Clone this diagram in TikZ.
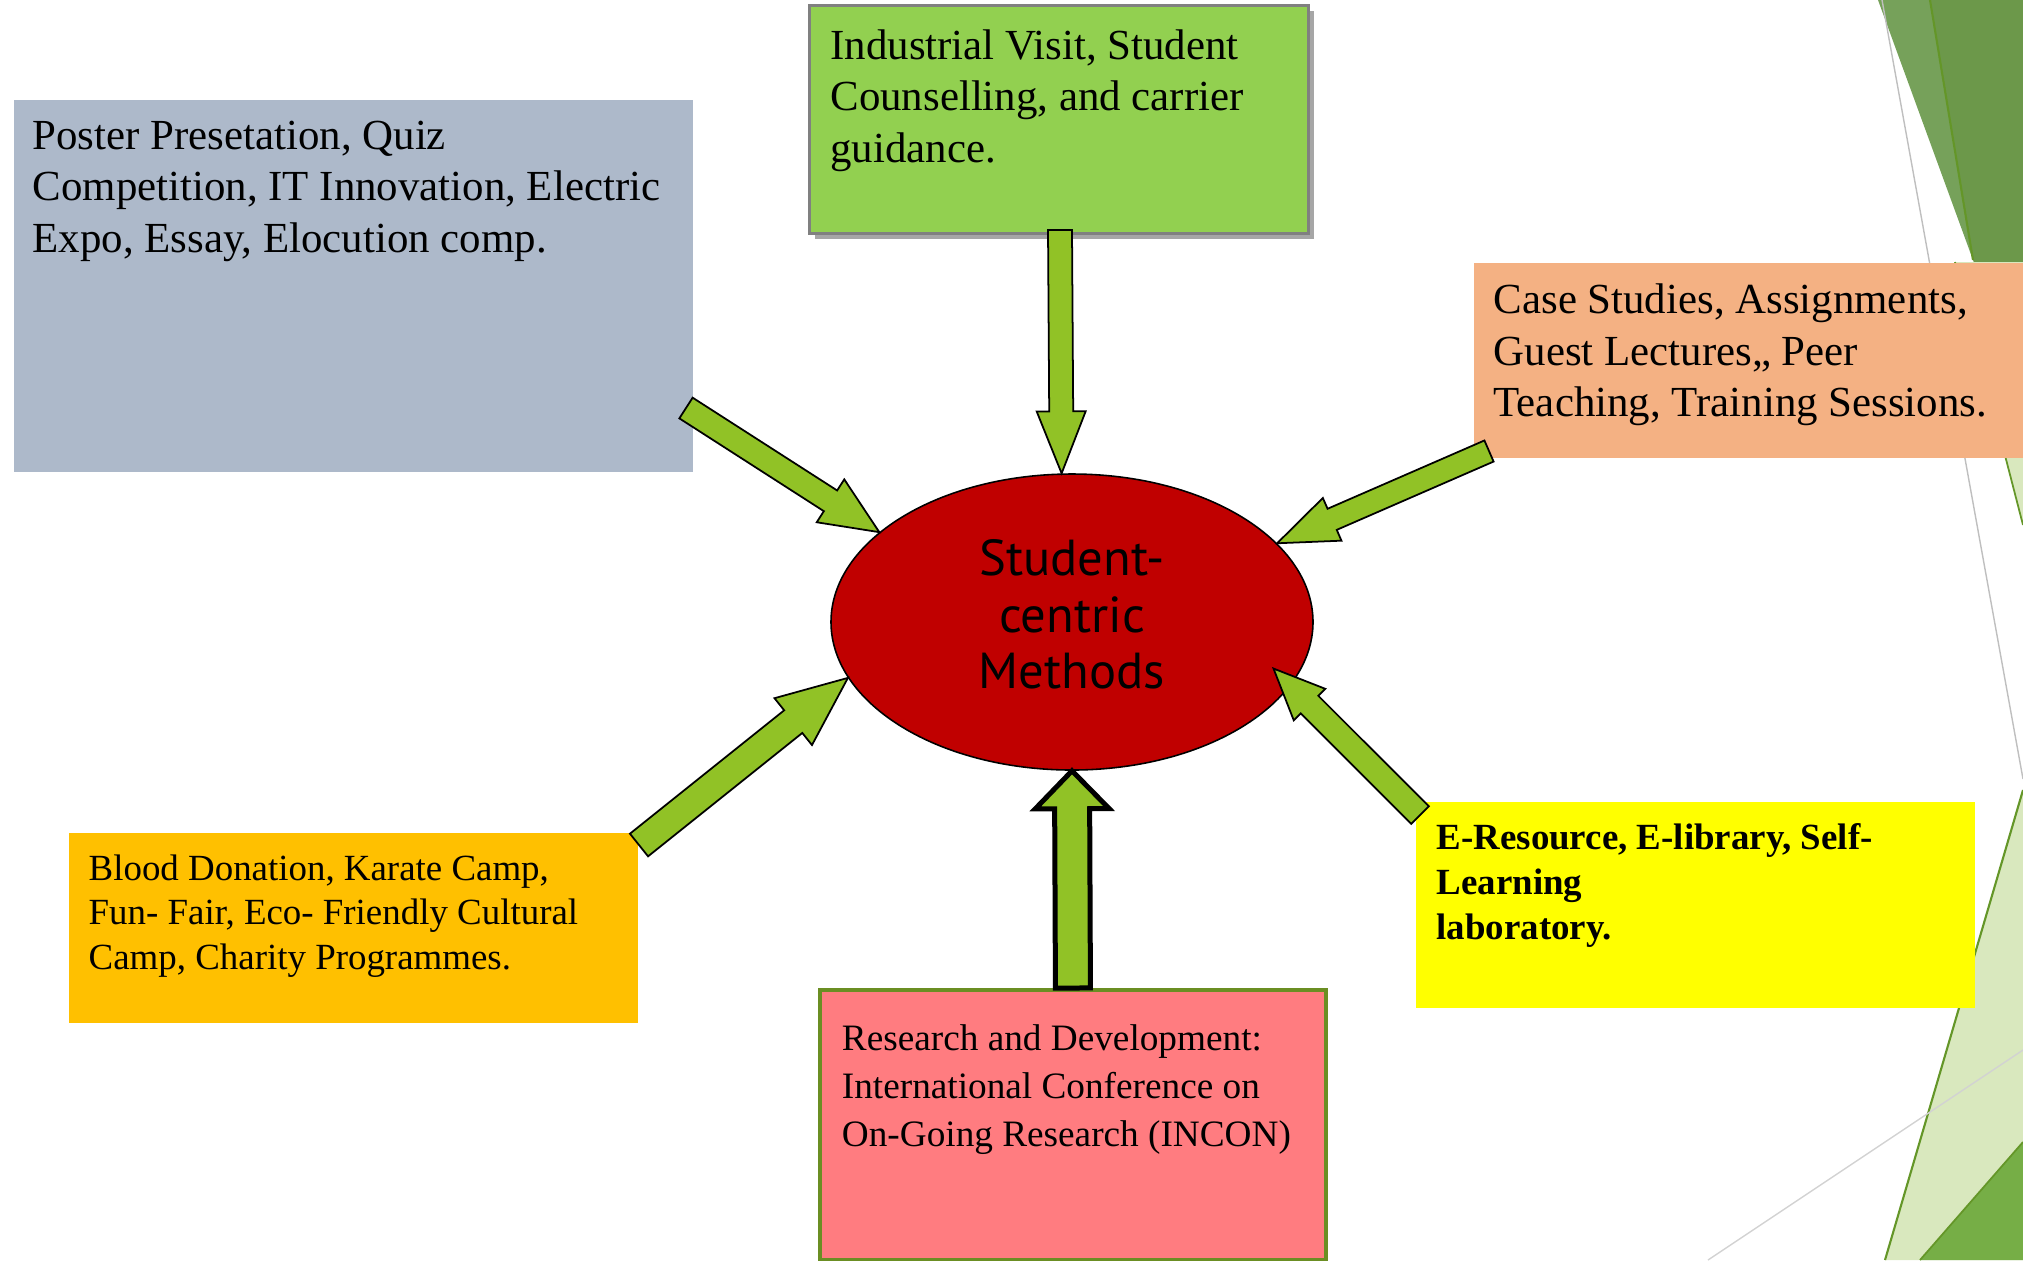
\documentclass[tikz,border=0pt]{standalone}
\usepackage{fontspec}
\setmainfont{Liberation Serif}
\newfontfamily\hubfont{PT Sans}
\usetikzlibrary{calc,shapes.geometric,shadows}

\definecolor{posterblue}{RGB}{173,185,202}
\definecolor{visitgreen}{RGB}{146,208,80}
\definecolor{casepeach}{RGB}{244,177,131}
\definecolor{elibyellow}{RGB}{255,255,0}
\definecolor{bloodamber}{RGB}{255,192,0}
\definecolor{inconpink}{RGB}{255,124,128}
\definecolor{inconrim}{RGB}{107,142,35}
\definecolor{hubred}{RGB}{192,0,0}
\definecolor{arrowgreen}{RGB}{145,194,38}
\definecolor{facetdark}{RGB}{108,152,74}
\definecolor{facetmid}{RGB}{118,161,90}
\definecolor{facetpale}{RGB}{217,232,190}
\definecolor{facetleaf}{RGB}{118,174,70}
\definecolor{facetedge}{RGB}{100,150,40}

\newcommand{\boxtext}[3]{\parbox[c][#2][t]{#1}{\raggedright #3}}
\newcommand{\blockarrow}[6][]{%
  \coordinate (ba-h) at ($(#3)!#6!(#2)$);
  \draw[blockarrow,#1] ($(#2)!#4!90:(#3)$) -- ($(ba-h)!#4!90:(#3)$) -- ($(ba-h)!#5!90:(#3)$) -- (#3)
    -- ($(ba-h)!#5!-90:(#3)$) -- ($(ba-h)!#4!-90:(#3)$) -- ($(#2)!#4!-90:(#3)$) -- cycle;}

\tikzset{
  box/.style={anchor=north west,inner xsep=0.2cm,font=\fontsize{12.2}{14.7}\selectfont},
  smallbox/.style={box,font=\fontsize{10.5}{12.7}\selectfont},
  hub/.style={ellipse,minimum width=4.82cm,minimum height=2.96cm,inner sep=0pt,fill=hubred,draw=black,
    line width=0.45pt,align=center,font=\hubfont\fontsize{14.4}{16.2}\selectfont},
  blockarrow/.style={fill=arrowgreen,draw=black,line width=0.5pt,line join=miter},
}

\begin{document}
\begin{tikzpicture}[x=1cm,y=-1cm]
\useasboundingbox (0,0) rectangle (20.23,12.60);

\fill[facetmid] (18.78,0) -- (19.30,0) -- (19.73,2.60) -- cycle;
\fill[facetdark] (19.30,0) -- (20.23,0) -- (20.23,3.97) -- (19.73,2.60) -- cycle;
\fill[facetpale] (19.55,2.62) -- (20.23,2.62) -- (20.23,5.25) -- cycle;
\draw[facetedge,line width=0.5pt] (19.55,2.62) -- (20.23,5.25);
\draw[facetedge,line width=0.6pt] (19.30,0) -- (19.73,2.60);
\draw[gray!50,line width=0.4pt] (18.82,0) -- (20.23,7.79);
\fill[facetpale] (20.23,7.90) -- (18.85,12.60) -- (20.23,12.60) -- cycle;
\draw[facetedge,line width=0.6pt] (20.23,7.90) -- (18.85,12.60);
\draw[gray!35,line width=0.4pt] (20.23,10.50) -- (17.08,12.60);
\fill[facetleaf] (20.23,11.42) -- (19.20,12.60) -- (20.23,12.60) -- cycle;
\draw[facetedge,line width=0.5pt] (20.23,11.42) -- (19.20,12.60);

\node[box,fill=posterblue,inner xsep=0.19cm,inner ysep=0.21cm] (poster) at (0.13,0.99)
  {\boxtext{6.41cm}{3.30cm}{Poster Presetation, Quiz\\Competition, IT Innovation, Electric\\Expo, Essay, Elocution comp.}};
\node[box,fill=visitgreen,draw=gray,line width=0.85pt,inner xsep=0.21cm,inner ysep=0.24cm,
  drop shadow={shadow xshift=0.05cm,shadow yshift=-0.05cm,fill=black!35,opacity=1}] (visit) at (8.08,0.04)
  {\boxtext{4.57cm}{1.80cm}{Industrial Visit, Student\\Counselling, and carrier\\guidance.}};
\node[box,fill=casepeach,inner ysep=0.21cm] (cases) at (14.73,2.62)
  {\boxtext{5.10cm}{1.53cm}{Case Studies, Assignments,\\Guest Lectures,, Peer\\Teaching, Training Sessions.}};
\node[smallbox,fill=elibyellow,inner xsep=0.21cm,inner ysep=0.22cm,font=\fontsize{10.5}{12.8}\selectfont\bfseries] (elib) at (14.15,8.01)
  {\boxtext{5.17cm}{1.62cm}{E-Resource, E-library, Self-\\Learning\\laboratory.}};
\node[smallbox,fill=bloodamber,inner ysep=0.22cm] (blood) at (0.68,8.32)
  {\boxtext{5.29cm}{1.46cm}{Blood Donation, Karate Camp,\\Fun- Fair, Eco- Friendly Cultural\\Camp, Charity Programmes.}};
\node[smallbox,fill=inconpink,draw=inconrim,line width=1.1pt,inner xsep=0.22cm,inner ysep=0.35cm,
  font=\fontsize{10.6}{13.6}\selectfont] (incon) at (8.18,9.88)
  {\boxtext{4.62cm}{2.00cm}{Research and Development:\\International Conference on\\On-Going Research (INCON)}};

\node[hub] (hub) at (10.72,6.22) {Student-\\centric\\Methods\rule[-0.16cm]{0pt}{0pt}};

\coordinate (posterfoot) at (6.86,4.08);
\coordinate (visitfoot) at (10.60,2.30);
\coordinate (casesfoot) at (14.89,4.51);
\coordinate (elibfoot) at (14.20,8.15);
\coordinate (bloodfoot) at (6.39,8.45);
\coordinate (elibtip) at ($(hub.center)!0.89!(hub.-13)$);

\blockarrow{posterfoot}{hub.155}{0.123cm}{0.255cm}{0.58cm}
\blockarrow{visitfoot}{hub.94}{0.12cm}{0.245cm}{0.62cm}
\blockarrow{casesfoot}{hub.21}{0.115cm}{0.233cm}{0.60cm}
\blockarrow{elibfoot}{elibtip}{0.124cm}{0.223cm}{0.51cm}
\blockarrow{bloodfoot}{hub.194}{0.145cm}{0.30cm}{0.70cm}
\blockarrow[line width=0.05cm]{incon.north}{hub.south}{0.175cm}{0.37cm}{0.38cm}
\end{tikzpicture}
\end{document}
